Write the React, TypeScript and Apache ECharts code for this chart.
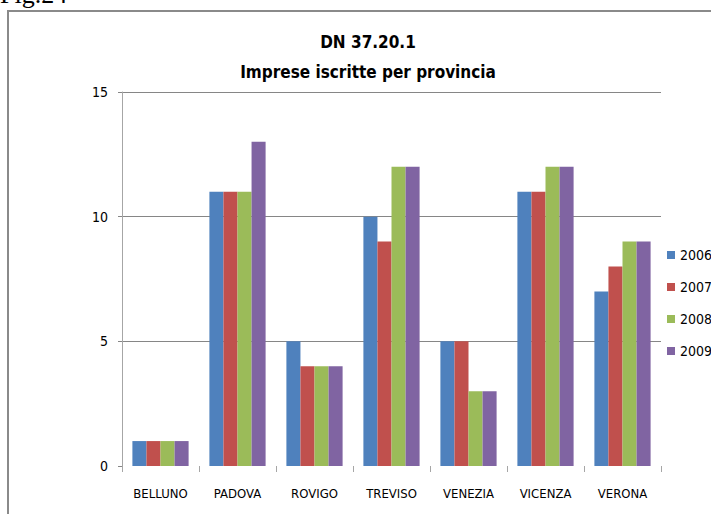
import React, { useEffect, useRef } from "react";
import * as echarts from "echarts";

const categories = ["BELLUNO", "PADOVA", "ROVIGO", "TREVISO", "VENEZIA", "VICENZA", "VERONA"];
const years = ["2006", "2007", "2008", "2009"];
const values2006 = [1, 11, 5, 10, 5, 11, 7];
const values2007 = [1, 11, 4, 9, 5, 11, 8];
const values2008 = [1, 11, 4, 12, 3, 12, 9];
const values2009 = [1, 13, 4, 12, 3, 12, 9];
const seriesValues = [values2006, values2007, values2008, values2009];
const colors = ["#4F81BD", "#C0504D", "#9BBB59", "#8064A2"];
const titleLines = ["DN 37.20.1", "Imprese iscritte per provincia"];
const figLabel = "Fig.24";

const FONT = "'DejaVu Sans Condensed', 'Liberation Sans Narrow', sans-serif";

export default function App() {
  const ref = useRef<HTMLDivElement>(null);
  useEffect(() => {
    if (!ref.current) return;
    const chart = echarts.init(ref.current, null, { renderer: "svg" });
    chart.setOption({
      animation: false,
      backgroundColor: "#ffffff",
      color: colors,
      title: {
        text: titleLines.join("\n"),
        left: 363,
        top: 22,
        textAlign: "center",
        textStyle: {
          fontFamily: FONT,
          fontSize: 17,
          fontWeight: "bold",
          color: "#000",
          lineHeight: 30,
        },
      },
      legend: {
        orient: "vertical",
        left: 667,
        top: 247,
        padding: 0,
        itemWidth: 8,
        itemHeight: 8,
        itemGap: 16,
        icon: "rect",
        textStyle: { fontFamily: FONT, fontSize: 14, color: "#000", lineHeight: 16 },
        data: years,
      },
      graphic: [
        {
          type: "text",
          left: 0,
          top: -19,
          style: { text: figLabel, fontFamily: "'Liberation Serif', serif", fontSize: 26, fill: "#000" },
        },
        {
          type: "line",
          shape: { x1: 8, y1: 11, x2: 711, y2: 11 },
          style: { stroke: "#8a8a8a", lineWidth: 2 },
        },
        {
          type: "line",
          shape: { x1: 8, y1: 10, x2: 8, y2: 514 },
          style: { stroke: "#8a8a8a", lineWidth: 2 },
        },
      ],
      grid: { left: 122, right: 50, top: 92, bottom: 48, containLabel: false },
      xAxis: {
        type: "category",
        data: categories,
        axisLine: { show: false },
        axisTick: { show: true, length: 6, lineStyle: { color: "#A6A6A6" } },
        axisLabel: { fontFamily: FONT, fontSize: 13, color: "#000", margin: 21, interval: 0 },
      },
      yAxis: {
        type: "value",
        min: 0,
        max: 15,
        interval: 5,
        axisLine: { show: true, lineStyle: { color: "#A6A6A6" } },
        axisTick: { show: true, length: 4, lineStyle: { color: "#868686" } },
        axisLabel: { fontFamily: FONT, fontSize: 14, color: "#000", margin: 14 },
        splitLine: { show: true, showMinLine: false, lineStyle: { color: "#868686", width: 1 } },
      },
      series: years.map((y, i) => ({
        name: y,
        type: "bar",
        data: seriesValues[i],
        barGap: "0%",
        barCategoryGap: "27%",
        itemStyle: { color: colors[i] },
      })),
    });
    return () => chart.dispose();
  }, []);
  return (
    <div
      ref={ref}
      style={{ position: "fixed", left: 0, top: 0, width: 711, height: 514, background: "#fff" }}
    />
  );
}
